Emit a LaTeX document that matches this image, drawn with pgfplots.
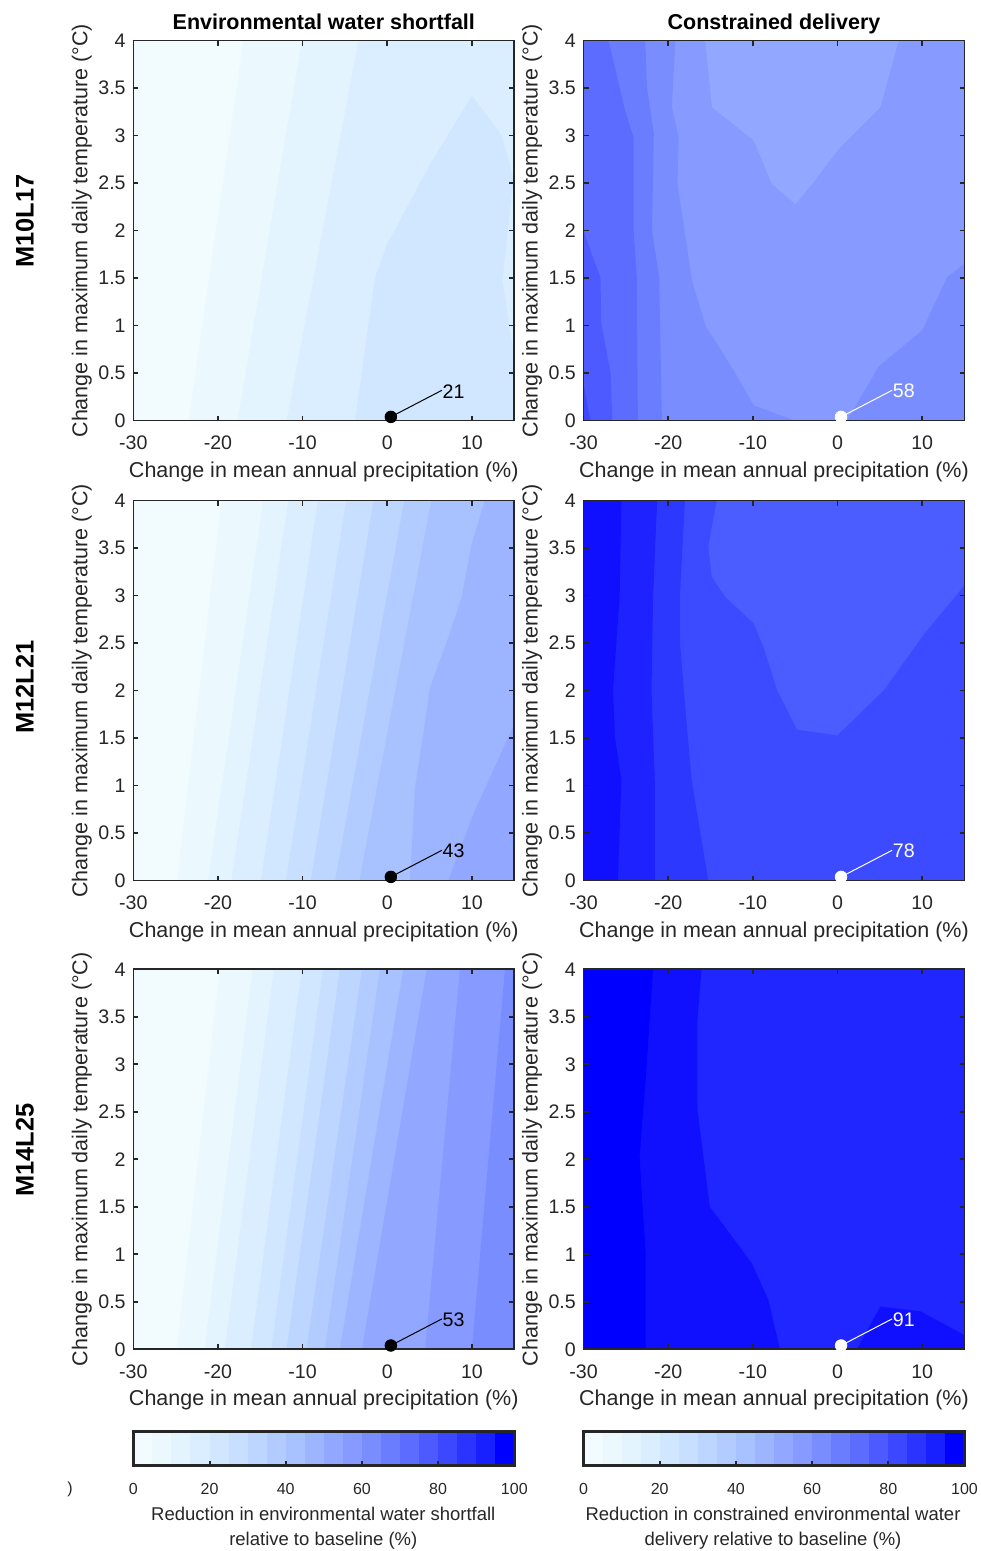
\documentclass[border=0pt]{standalone}
\usepackage{fontspec}
\setmainfont{Liberation Sans}
\usepackage{pgfplots}
\pgfplotsset{compat=1.18}

\definecolor{axgray}{HTML}{262626}
\definecolor{c0}{HTML}{F2FCFF}
\definecolor{c1}{HTML}{EBF9FF}
\definecolor{c2}{HTML}{E3F4FF}
\definecolor{c3}{HTML}{DAEEFF}
\definecolor{c4}{HTML}{D1E6FF}
\definecolor{c5}{HTML}{C8DFFF}
\definecolor{c6}{HTML}{BDD6FF}
\definecolor{c7}{HTML}{B2CCFF}
\definecolor{c8}{HTML}{A8C1FF}
\definecolor{c9}{HTML}{9DB4FF}
\definecolor{c10}{HTML}{92A7FF}
\definecolor{c11}{HTML}{869AFF}
\definecolor{c12}{HTML}{798DFF}
\definecolor{c13}{HTML}{6B7DFF}
\definecolor{c14}{HTML}{5C6CFF}
\definecolor{c15}{HTML}{4C5AFF}
\definecolor{c16}{HTML}{3C48FF}
\definecolor{c17}{HTML}{2A33FF}
\definecolor{c18}{HTML}{1820FF}
\definecolor{c19}{HTML}{0000FF}
\definecolor{eA}{HTML}{1010FF}
\definecolor{eB}{HTML}{1E22FF}
\definecolor{eC}{HTML}{2D38FF}
\definecolor{eD}{HTML}{3C4BFF}
\definecolor{eE}{HTML}{4B5DFF}
\definecolor{fA}{HTML}{0000FF}
\definecolor{fB}{HTML}{1010FF}
\definecolor{fC}{HTML}{2026FF}

\newcommand\ticksize{\fontsize{9.8pt}{11pt}\selectfont}
\newcommand\labelsize{\fontsize{10.75pt}{12pt}\selectfont}
\newcommand\cbtick{\fontsize{8pt}{9.5pt}\selectfont}
\newcommand\cblabel{\fontsize{9.24pt}{11pt}\selectfont}
\newcommand\rowfont{\fontsize{12.7pt}{14pt}\selectfont\bfseries}

\pgfplotsset{
  panel/.style={
    scale only axis, width=190.5pt, height=190pt,
    xmin=-30, xmax=15, ymin=0, ymax=4,
    xtick={-30,-20,-10,0,10}, xticklabels={-30,-20,-10,0,10},
    ytick={0,0.5,1,1.5,2,2.5,3,3.5,4},
    yticklabels={0,0.5,1,1.5,2,2.5,3,3.5,4},
    tick align=inside, major tick length=2.5pt,
    axis line style={draw=axgray, line width=0.8pt},
    tick style={draw=axgray, line width=0.8pt},
    tick label style={font=\ticksize, text=axgray},
    xticklabel style={anchor=base, yshift=-14.65pt, inner sep=0pt},
    yticklabel style={anchor=east, inner sep=0pt, xshift=-3.65pt},
    axis on top, clip=false,
    xlabel={Change in mean annual precipitation (\%)},
    ylabel={Change in maximum daily temperature (°C)},
    xlabel style={at={(axis description cs:0.5,0)}, anchor=base, yshift=-28.2pt, font=\labelsize, text=axgray},
    ylabel style={at={(axis description cs:-0.1207,0.5)}, anchor=base, font=\labelsize, text=axgray},
    title style={at={(axis description cs:0.5,1)}, anchor=base, yshift=-0.6pt, font=\labelsize\bfseries},
  },
  cbar/.style={
    scale only axis, width=190.5pt, height=17pt,
    xmin=0, xmax=100, ymin=0, ymax=1,
    xtick={0,20,40,60,80,100}, xticklabels={0,20,40,60,80,100},
    ytick=\empty, xtick pos=left, tick align=inside, major tick length=2pt,
    axis line style={draw=axgray, line width=1.3pt},
    tick style={draw=axgray, line width=1pt},
    xticklabel style={anchor=base, yshift=-14.35pt, inner sep=0pt, font=\cbtick, text=axgray},
    axis on top, clip=false,
  }
}

% fill the region right of a straight contour line from (b,0) to (t,4)
\newcommand{\band}[3]{\addplot[fill=#1, draw=none] coordinates {(#2,0) (#3,4) (15,4) (15,0)};}
\newcommand{\base}[1]{\addplot[fill=#1, draw=none] coordinates {(-30,0) (15,0) (15,4) (-30,4)};}
\newcommand{\annot}[2]{%
  \addplot[only marks, mark=*, mark size=2.9pt, mark options={draw=#1, fill=#1}] coordinates {(0.42,0.04)};
  \addplot[draw=#1, line width=0.5pt] coordinates {(0.42,0.04) (6.45,0.32)};
  \node[anchor=west, inner sep=0pt, font=\ticksize, text=#1] at (axis cs:6.5,0.31) {#2};}
\newcommand{\cb}[3]{\addplot[fill=#1, draw=none] coordinates {(#2,0) (#3,0) (#3,1) (#2,1)};}
\newcommand{\cbars}{%
  \cb{c0}{0}{5}\cb{c1}{5}{10}\cb{c2}{10}{15}\cb{c3}{15}{20}\cb{c4}{20}{25}%
  \cb{c5}{25}{30}\cb{c6}{30}{35}\cb{c7}{35}{40}\cb{c8}{40}{45}\cb{c9}{45}{50}%
  \cb{c10}{50}{55}\cb{c11}{55}{60}\cb{c12}{60}{65}\cb{c13}{65}{70}\cb{c14}{70}{75}%
  \cb{c15}{75}{80}\cb{c16}{80}{85}\cb{c17}{85}{90}\cb{c18}{90}{95}\cb{c19}{95}{100}}

\begin{document}
\begin{tikzpicture}
\useasboundingbox (0,0) rectangle (490pt,775.5pt);

% ---------------- Row 1: M10L17 ----------------
\begin{axis}[panel, at={(66.65pt,565.15pt)}, anchor=south west, title={Environmental water shortfall}]
\base{c0}
\band{c1}{-23.5}{-17.0}
\band{c2}{-17.7}{-10.1}
\band{c3}{-11.9}{-3.4}
\addplot[fill=c4, draw=none] coordinates {(-3.8,0) (-1.43,1.51) (-0.05,1.85) (5.07,2.70) (10.0,3.42) (13.54,3.0) (14.9,2.55) (13.6,1.48) (14.6,0.88) (15,0.7) (15,0)};
\annot{black}{21}
\end{axis}

\begin{axis}[panel, at={(291.75pt,565.15pt)}, anchor=south west, title={Constrained delivery}]
\base{c11}
\addplot[fill=c10, draw=none] coordinates {(-15.62,4) (-14.83,3.3) (-9.9,2.95) (-7.74,2.49) (-4.98,2.28) (-3.0,2.49) (0.14,2.86) (5.07,3.3) (7.23,4)};
\addplot[fill=c12, draw=none] coordinates {(-30,0) (-5.0,0) (-9.9,0.16) (-12.07,0.5) (-15.6,1.0) (-17.2,1.48) (-18.9,2.49) (-18.77,2.98) (-19.56,3.3) (-19.16,4) (-30,4)};
\addplot[fill=c12, draw=none] coordinates {(1.13,0) (4.87,0.57) (10.0,0.95) (12.95,1.51) (15,1.65) (15,0)};
\addplot[fill=c13, draw=none] coordinates {(-30,0) (-20.74,0) (-21.06,1.51) (-21.9,2.0) (-21.7,3.02) (-22.5,3.51) (-22.7,4) (-30,4)};
\addplot[fill=c14, draw=none] coordinates {(-30,0) (-23.58,0) (-23.7,1.51) (-24.09,2.0) (-24.09,2.98) (-25.07,3.26) (-27.04,4) (-30,4)};
\addplot[fill=c15, draw=none] coordinates {(-30,0) (-26.6,0) (-26.8,0.5) (-27.9,1.02) (-28.0,1.51) (-28.6,1.65) (-30,2.0)};
\addplot[fill=c16, draw=none] coordinates {(-30,0) (-29.2,0) (-30,0.39)};
\annot{white}{58}
\end{axis}

% ---------------- Row 2: M12L21 ----------------
\begin{axis}[panel, at={(66.65pt,335.15pt)}, anchor=south west]
\base{c0}
\band{c1}{-24.86}{-19.6}
\band{c2}{-21.18}{-14.66}
\band{c3}{-18.41}{-11.69}
\band{c4}{-14.93}{-8.2}
\band{c5}{-11.97}{-4.85}
\band{c6}{-9.05}{-1.63}
\band{c7}{-6.17}{2.0}
\band{c8}{-3.3}{5.2}
\addplot[fill=c9, draw=none] coordinates {(2.68,0) (3.27,0.98) (4.25,1.54) (5.04,2.03) (7.2,2.56) (8.78,2.98) (9.96,3.54) (11.5,4) (15,4) (15,0)};
\addplot[fill=c10, draw=none] coordinates {(7.2,0) (10.16,0.7) (15,1.65) (15,0)};
\annot{black}{43}
\end{axis}

\begin{axis}[panel, at={(291.75pt,335.15pt)}, anchor=south west]
\base{eD}
\addplot[fill=eE, draw=none] coordinates {(-14.26,4) (-15.25,3.52) (-14.86,3.2) (-13.27,2.99) (-9.91,2.71) (-8.73,2.46) (-7.15,2.01) (-4.77,1.59) (-0.03,1.53) (5.51,2.01) (10.25,2.6) (15,3.11) (15,4)};
\addplot[fill=eC, draw=none] coordinates {(-30,0) (-15.25,0) (-17.23,1.06) (-17.82,1.66) (-18.6,2.5) (-18.61,2.99) (-18.02,4) (-30,4)};
\addplot[fill=eB, draw=none] coordinates {(-30,0) (-21.58,0) (-21.58,1.06) (-21.97,2.0) (-21.78,2.99) (-21.3,4) (-30,4)};
\addplot[fill=eA, draw=none] coordinates {(-30,0) (-25.93,0) (-25.53,1.06) (-26.3,1.52) (-26.52,2.0) (-25.73,2.99) (-25.53,4) (-30,4)};
\annot{white}{78}
\end{axis}

% ---------------- Row 3: M14L25 ----------------
\begin{axis}[panel, at={(66.65pt,100.85pt)}, anchor=south west]
\base{c0}
\band{c1}{-24.9}{-19.8}
\band{c2}{-21.6}{-15.9}
\band{c3}{-19.2}{-13.4}
\band{c4}{-16.1}{-10.1}
\band{c5}{-13.7}{-7.6}
\band{c6}{-11.9}{-5.6}
\band{c7}{-9.55}{-3.0}
\band{c8}{-7.38}{-0.87}
\band{c9}{-5.6}{1.89}
\band{c10}{-3.0}{4.65}
\band{c11}{4.47}{8.58}
\band{c12}{9.99}{13.9}
\annot{black}{53}
\end{axis}

\begin{axis}[panel, at={(291.75pt,100.85pt)}, anchor=south west]
\base{fC}
\addplot[fill=fB, draw=none] coordinates {(-30,0) (-6.79,0) (-8.17,0.52) (-10.14,0.91) (-15.08,1.5) (-16.54,2.52) (-16.54,3.47) (-16.06,4) (-30,4)};
\addplot[fill=fB, draw=none] coordinates {(2.29,0) (5.06,0.45) (9.79,0.40) (15,0.15) (15,0)};
\addplot[fill=fA, draw=none] coordinates {(-30,0) (-22.66,0) (-22.66,1.01) (-23.17,1.71) (-23.37,2.03) (-22.58,2.94) (-21.79,4) (-30,4)};
\annot{white}{91}
\end{axis}

% ---------------- Colour bars ----------------
\begin{axis}[cbar, at={(66.65pt,42.85pt)}, anchor=south west]
\cbars
\end{axis}
\begin{axis}[cbar, at={(291.75pt,42.85pt)}, anchor=south west]
\cbars
\end{axis}

\node[anchor=base, font=\cblabel, text=axgray] at (161.65pt,15.25pt) {Reduction in environmental water shortfall};
\node[anchor=base, font=\cblabel, text=axgray] at (161.65pt,2.5pt) {relative to baseline (\%)};
\node[anchor=base, font=\cblabel, text=axgray] at (386.5pt,15.25pt) {Reduction in constrained environmental water};
\node[anchor=base, font=\cblabel, text=axgray] at (386.5pt,2.5pt) {delivery relative to baseline (\%)};
\node[anchor=base, font=\cbtick, text=axgray, inner sep=0pt] at (35pt,28.5pt) {)};

% ---------------- Row labels ----------------
\node[rotate=90, anchor=base, font=\rowfont] at (16.85pt,665pt) {M10L17};
\node[rotate=90, anchor=base, font=\rowfont] at (16.85pt,432pt) {M12L21};
\node[rotate=90, anchor=base, font=\rowfont] at (16.85pt,200.5pt) {M14L25};
\end{tikzpicture}
\end{document}
